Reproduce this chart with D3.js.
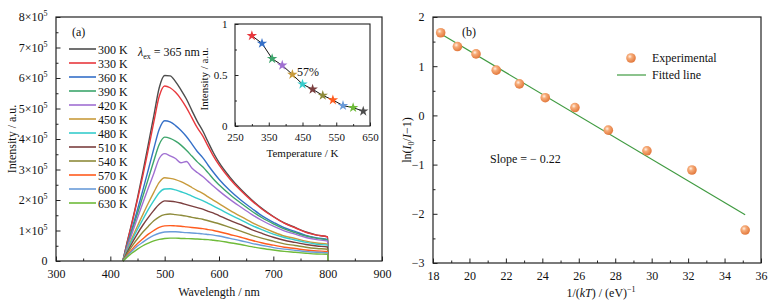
<!DOCTYPE html>
<html>
<head>
<meta charset="utf-8">
<script src="https://cdn.jsdelivr.net/npm/d3@7"></script>
<style>
  body { margin: 0; background: #fff; }
  svg text { font-family: "Liberation Serif", "Times New Roman", "DejaVu Serif", serif; fill: #111; }
  .tick line { stroke: #222; stroke-width: 1; }
</style>
</head>
<body>
<div id="chart"></div>
<script>
// ---------------- data: panel (a) emission spectra (intensity in 1e5 a.u.) ----------------
var wavelengths = [423, 430, 440, 450, 460, 470, 480, 490, 500, 510, 520, 530, 540, 550, 560,
  570, 580, 590, 600, 620, 640, 660, 680, 700, 720, 740, 760, 780, 800, 800.5];

var int_300k = [0, .55, 1.28, 2.07, 2.93, 3.84, 4.76, 5.68, 6.08, 6.07, 5.88, 5.61, 5.31, 4.94, 4.58, 4.27, 3.90, 3.54, 3.23, 2.75, 2.35, 2.01, 1.71, 1.46, 1.25, 1.10, 0.95, 0.85, 0.79, 0.05];
var int_330k = [0, .53, 1.25, 2.01, 2.81, 3.67, 4.55, 5.40, 5.74, 5.68, 5.53, 5.31, 5.03, 4.70, 4.37, 4.10, 3.76, 3.43, 3.15, 2.69, 2.31, 1.98, 1.69, 1.45, 1.24, 1.09, 0.94, 0.85, 0.79, 0.05];
var int_360k = [0, .46, 1.06, 1.69, 2.33, 3.00, 3.68, 4.32, 4.60, 4.56, 4.44, 4.28, 4.08, 3.84, 3.59, 3.39, 3.14, 2.90, 2.68, 2.31, 2.00, 1.73, 1.47, 1.27, 1.09, 0.97, 0.84, 0.76, 0.71, 0.05];
var int_390k = [0, .43, .99, 1.56, 2.13, 2.70, 3.28, 3.82, 4.06, 4.02, 3.93, 3.80, 3.63, 3.44, 3.25, 3.09, 2.89, 2.68, 2.50, 2.18, 1.90, 1.64, 1.41, 1.22, 1.05, 0.93, 0.82, 0.74, 0.69, 0.04];
var int_420k = [0, .39, .91, 1.42, 1.91, 2.40, 2.87, 3.36, 3.52, 3.45, 3.36, 3.22, 3.26, 3.05, 2.90, 2.77, 2.61, 2.45, 2.30, 2.02, 1.77, 1.53, 1.32, 1.14, 0.99, 0.88, 0.77, 0.70, 0.65, 0.04];
var int_450k = [0, .32, .75, 1.15, 1.53, 1.90, 2.25, 2.58, 2.73, 2.71, 2.67, 2.60, 2.51, 2.41, 2.31, 2.22, 2.10, 1.99, 1.88, 1.66, 1.46, 1.27, 1.10, 0.95, 0.82, 0.74, 0.65, 0.59, 0.55, 0.04];
var int_480k = [0, .29, .68, 1.04, 1.37, 1.69, 1.98, 2.24, 2.36, 2.37, 2.33, 2.27, 2.21, 2.13, 2.05, 1.98, 1.89, 1.80, 1.71, 1.52, 1.35, 1.17, 1.02, 0.88, 0.77, 0.69, 0.61, 0.55, 0.52, 0.03];
var int_510k = [0, .25, .59, .90, 1.18, 1.43, 1.66, 1.86, 1.97, 1.96, 1.94, 1.90, 1.85, 1.80, 1.75, 1.70, 1.63, 1.57, 1.49, 1.33, 1.19, 1.03, 0.90, 0.78, 0.68, 0.61, 0.54, 0.49, 0.46, 0.03];
var int_540k = [0, .21, .49, .73, .95, 1.14, 1.32, 1.45, 1.52, 1.54, 1.52, 1.50, 1.47, 1.43, 1.40, 1.37, 1.32, 1.27, 1.22, 1.10, 0.98, 0.85, 0.74, 0.65, 0.56, 0.51, 0.45, 0.41, 0.385, 0.02];
var int_570k = [0, .16, .38, .57, .73, .88, 1.00, 1.10, 1.15, 1.16, 1.15, 1.14, 1.12, 1.10, 1.08, 1.06, 1.03, 1.00, 0.96, 0.87, 0.78, 0.68, 0.59, 0.52, 0.45, 0.41, 0.36, 0.33, 0.31, 0.02];
var int_600k = [0, .14, .33, .49, .62, .74, .84, .91, .95, .96, .96, .945, .93, .92, .905, .89, .87, .85, .82, .74, .665, .58, .51, .44, .39, .35, .31, .285, .27, 0.02];
var int_630k = [0, .11, .26, .39, .50, .585, .66, .71, .74, .75, .75, .74, .735, .73, .72, .71, .70, .68, .66, .60, .54, .47, .41, .36, .315, .285, .255, .23, .22, 0.01];

var temp_labels = ['300 K', '330 K', '360 K', '390 K', '420 K', '450 K', '480 K', '510 K', '540 K', '570 K', '600 K', '630 K'];
var spectra = [int_300k, int_330k, int_360k, int_390k, int_420k, int_450k, int_480k, int_510k, int_540k, int_570k, int_600k, int_630k];
var colors = ['#4d4d4d', '#e8383d', '#3570c8', '#3da56c', '#a070d2', '#c89b3c', '#36cccc', '#7b3f3f', '#8e8b3b', '#ff5c1f', '#6a9bd9', '#6fbb3a'];

var x_ticks_a = [300, 400, 500, 600, 700, 800, 900];
var y_ticks_a = [0, 1, 2, 3, 4, 5, 6, 7, 8];

// inset: integrated intensity vs temperature
var inset_temps = [300, 330, 360, 390, 420, 450, 480, 510, 540, 570, 600, 630];
var inset_intensity = [0.885, 0.81, 0.66, 0.595, 0.505, 0.41, 0.36, 0.30, 0.255, 0.20, 0.18, 0.145];
var inset_colors = ['#e8383d', '#3570c8', '#3da56c', '#a070d2', '#c89b3c', '#36cccc', '#7b3f3f', '#8e8b3b', '#ff5c1f', '#6a9bd9', '#6fbb3a', '#4d4d4d'];
var inset_x_ticks = [250, 350, 450, 550, 650];
var inset_y_ticks = [0, 0.5, 1];

// ---------------- data: panel (b) Arrhenius fit ----------------
var inv_kT = [18.42, 19.34, 20.36, 21.47, 22.74, 24.16, 25.79, 27.62, 29.74, 32.21, 35.13];
var ln_ratio = [1.68, 1.40, 1.25, 0.92, 0.64, 0.36, 0.16, -0.30, -0.72, -1.11, -2.33];
var fit_slope = -0.22;
var fit_intercept = 5.71;
var x_ticks_b = [18, 20, 22, 24, 26, 28, 30, 32, 34, 36];
var y_ticks_b = [-3, -2, -1, 0, 1, 2];

var chart_width = 776;
var chart_height = 304;
var serif = '"Liberation Serif", "Times New Roman", "DejaVu Serif", serif';

var svg = d3.select('#chart')
  .append('svg')
  .attr('width', chart_width)
  .attr('height', chart_height)
  .attr('font-family', serif);

var defs = svg.append('defs');
var grad = defs.append('radialGradient')
  .attr('id', 'ball')
  .attr('cx', '38%').attr('cy', '35%').attr('r', '65%');
grad.append('stop').attr('offset', '0%').attr('stop-color', '#fff1e6');
grad.append('stop').attr('offset', '35%').attr('stop-color', '#f6ab78');
grad.append('stop').attr('offset', '100%').attr('stop-color', '#e2783c');

// helper: inward ticks (major + minor) on a group
function drawAxis(g, axis_fn, scale, majors, minors, len, fmt) {
  var major = axis_fn(scale).tickValues(majors).tickSizeInner(-len).tickSizeOuter(0).tickPadding(len + 4).tickFormat(fmt);
  g.call(major);
  g.attr('font-family', serif);
  g.select('.domain').remove();
  var gm = g.append('g');
  gm.call(axis_fn(scale).tickValues(minors).tickSizeInner(-len * 0.55).tickSizeOuter(0).tickFormat(''));
  gm.select('.domain').remove();
  g.selectAll('text').attr('font-size', 12).attr('fill', '#111');
}

function range_step(a, b, s) {
  var out = [];
  for (var v = a; v <= b + 1e-9; v += s) out.push(+v.toFixed(4));
  return out;
}

// ======================= panel (a) =======================
var ax = { left: 56, right: 382, top: 17, bottom: 261 };

var x_scale_a = d3.scaleLinear().domain([300, 900]).range([ax.left, ax.right]);
var y_scale_a = d3.scaleLinear().domain([0, 8]).range([ax.bottom, ax.top]);

var gxa = svg.append('g').attr('transform', 'translate(0,' + ax.bottom + ')');
drawAxis(gxa, d3.axisBottom, x_scale_a, x_ticks_a, range_step(350, 850, 100), 4.5, d3.format('d'));

var gya = svg.append('g').attr('transform', 'translate(' + ax.left + ',0)');
drawAxis(gya, d3.axisLeft, y_scale_a, y_ticks_a, range_step(0.5, 7.5, 1), 4.5, function() { return ''; });
gya.selectAll('.tick').filter(function(d) { return y_ticks_a.indexOf(d) >= 0; })
  .select('text')
  .each(function(d) {
    var t = d3.select(this);
    if (d === 0) { t.text('0'); return; }
    t.text(d + '×10');
    t.append('tspan').attr('dy', -5).attr('font-size', 8).text('5');
  });

var line_a = d3.line()
  .x(function(d, i) { return x_scale_a(wavelengths[i]); })
  .y(function(d) { return y_scale_a(d); })
  .curve(d3.curveMonotoneX);

svg.append('g')
  .selectAll('path')
  .data(spectra)
  .enter()
  .append('path')
  .attr('d', line_a)
  .attr('fill', 'none')
  .attr('stroke', function(d, i) { return colors[i]; })
  .attr('stroke-width', 1.4)
  .attr('stroke-linejoin', 'round');

svg.append('rect')
  .attr('x', ax.left).attr('y', ax.top)
  .attr('width', ax.right - ax.left).attr('height', ax.bottom - ax.top)
  .attr('fill', 'none').attr('stroke', '#222').attr('stroke-width', 1.2);

// legend (a)
var leg_a = svg.append('g')
  .selectAll('g')
  .data(temp_labels)
  .enter()
  .append('g')
  .attr('transform', function(d, i) { return 'translate(69,' + (49 + i * 14) + ')'; });
leg_a.append('line')
  .attr('x1', 0).attr('x2', 27).attr('y1', 0).attr('y2', 0)
  .attr('stroke', function(d, i) { return colors[i]; })
  .attr('stroke-width', 1.6);
leg_a.append('text')
  .attr('x', 29).attr('y', 4.5)
  .attr('font-size', 12)
  .text(function(d) { return d; });

svg.append('text').attr('x', 72).attr('y', 36).attr('font-size', 12).text('(a)');

var lam = svg.append('text').attr('x', 138).attr('y', 56).attr('font-size', 12);
lam.append('tspan').attr('font-style', 'italic').text('λ');
lam.append('tspan').attr('dy', 3).attr('font-size', 8).text('ex');
lam.append('tspan').attr('dy', -3).text(' = 365 nm');

svg.append('text')
  .attr('x', (ax.left + ax.right) / 2).attr('y', 296)
  .attr('text-anchor', 'middle').attr('font-size', 12)
  .text('Wavelength / nm');
svg.append('text')
  .attr('transform', 'translate(16,' + ((ax.top + ax.bottom) / 2) + ') rotate(-90)')
  .attr('text-anchor', 'middle').attr('font-size', 12)
  .text('Intensity / a.u.');

// ---------- inset ----------
var ins = { left: 235, right: 370, top: 24, bottom: 126 };
var x_scale_in = d3.scaleLinear().domain([250, 650]).range([ins.left, ins.right]);
var y_scale_in = d3.scaleLinear().domain([0, 1]).range([ins.bottom, ins.top]);

var gxi = svg.append('g').attr('transform', 'translate(0,' + ins.bottom + ')');
drawAxis(gxi, d3.axisBottom, x_scale_in, inset_x_ticks, range_step(300, 600, 100), 3.5, d3.format('d'));
var gyi = svg.append('g').attr('transform', 'translate(' + ins.left + ',0)');
drawAxis(gyi, d3.axisLeft, y_scale_in, inset_y_ticks, [0.25, 0.75], 3.5, function(d) { return d === 0.5 ? '0.5' : d3.format('d')(d); });
gxi.selectAll('text').attr('font-size', 11);
gyi.selectAll('text').attr('font-size', 11);

svg.append('rect')
  .attr('x', ins.left).attr('y', ins.top)
  .attr('width', ins.right - ins.left).attr('height', ins.bottom - ins.top)
  .attr('fill', 'none').attr('stroke', '#222').attr('stroke-width', 1.1);

var line_in = d3.line()
  .x(function(d, i) { return x_scale_in(inset_temps[i]); })
  .y(function(d) { return y_scale_in(d); });
svg.append('path')
  .datum(inset_intensity)
  .attr('d', line_in)
  .attr('fill', 'none').attr('stroke', '#111').attr('stroke-width', 1);

svg.append('g')
  .selectAll('path')
  .data(inset_intensity)
  .enter()
  .append('path')
  .attr('d', d3.symbol().type(d3.symbolStar).size(34))
  .attr('transform', function(d, i) { return 'translate(' + x_scale_in(inset_temps[i]) + ',' + y_scale_in(d) + ')'; })
  .attr('fill', function(d, i) { return inset_colors[i]; });

svg.append('text').attr('x', 297).attr('y', 76).attr('font-size', 12).text('57%');
svg.append('text')
  .attr('x', (ins.left + ins.right) / 2).attr('y', 157)
  .attr('text-anchor', 'middle').attr('font-size', 11)
  .text('Temperature / K');
svg.append('text')
  .attr('transform', 'translate(208,' + ((ins.top + ins.bottom) / 2 + 4) + ') rotate(-90)')
  .attr('text-anchor', 'middle').attr('font-size', 11)
  .text('Intensity / a.u.');

// ======================= panel (b) =======================
var bx = { left: 433, right: 761, top: 17, bottom: 263 };
var x_scale_b = d3.scaleLinear().domain([18, 36]).range([bx.left, bx.right]);
var y_scale_b = d3.scaleLinear().domain([-3, 2]).range([bx.bottom, bx.top]);

var gxb = svg.append('g').attr('transform', 'translate(0,' + bx.bottom + ')');
drawAxis(gxb, d3.axisBottom, x_scale_b, x_ticks_b, range_step(19, 35, 2), 4.5, d3.format('d'));
var gyb = svg.append('g').attr('transform', 'translate(' + bx.left + ',0)');
drawAxis(gyb, d3.axisLeft, y_scale_b, y_ticks_b, range_step(-2.5, 1.5, 1), 4.5, function(d) { return d < 0 ? '−' + Math.abs(d) : d; });

// fitted line
var fit_x = [d3.min(inv_kT), d3.max(inv_kT)];
svg.append('line')
  .attr('x1', x_scale_b(fit_x[0])).attr('y1', y_scale_b(fit_intercept + fit_slope * fit_x[0]))
  .attr('x2', x_scale_b(fit_x[1])).attr('y2', y_scale_b(fit_intercept + fit_slope * fit_x[1]))
  .attr('stroke', '#3f9a40').attr('stroke-width', 1.2);

svg.append('g')
  .selectAll('circle')
  .data(ln_ratio)
  .enter()
  .append('circle')
  .attr('cx', function(d, i) { return x_scale_b(inv_kT[i]); })
  .attr('cy', function(d) { return y_scale_b(d); })
  .attr('r', 4.8)
  .attr('fill', 'url(#ball)');

svg.append('rect')
  .attr('x', bx.left).attr('y', bx.top)
  .attr('width', bx.right - bx.left).attr('height', bx.bottom - bx.top)
  .attr('fill', 'none').attr('stroke', '#222').attr('stroke-width', 1.2);

svg.append('text').attr('x', 462).attr('y', 36).attr('font-size', 12).text('(b)');

// legend (b)
svg.append('circle').attr('cx', 631).attr('cy', 58).attr('r', 4.8).attr('fill', 'url(#ball)');
svg.append('text').attr('x', 652).attr('y', 62).attr('font-size', 12).text('Experimental');
svg.append('line').attr('x1', 617).attr('x2', 646).attr('y1', 75).attr('y2', 75)
  .attr('stroke', '#3f9a40').attr('stroke-width', 1.2);
svg.append('text').attr('x', 652).attr('y', 79).attr('font-size', 12).text('Fitted line');

svg.append('text').attr('x', 490).attr('y', 163).attr('font-size', 12)
  .text('Slope = − ' + Math.abs(fit_slope).toFixed(2));

var xlab_b = svg.append('text')
  .attr('x', (bx.left + bx.right) / 2 + 4).attr('y', 297)
  .attr('text-anchor', 'middle').attr('font-size', 12);
xlab_b.append('tspan').text('1/(');
xlab_b.append('tspan').attr('font-style', 'italic').text('kT');
xlab_b.append('tspan').text(') / (eV)');
xlab_b.append('tspan').attr('dy', -5).attr('font-size', 8).text('−1');

var ylab_b = svg.append('text')
  .attr('transform', 'translate(411,' + ((bx.top + bx.bottom) / 2) + ') rotate(-90)')
  .attr('text-anchor', 'middle').attr('font-size', 12);
ylab_b.append('tspan').text('ln(');
ylab_b.append('tspan').attr('font-style', 'italic').text('I');
ylab_b.append('tspan').attr('dy', 3).attr('font-size', 8).text('0');
ylab_b.append('tspan').attr('dy', -3).text('/');
ylab_b.append('tspan').attr('font-style', 'italic').text('I');
ylab_b.append('tspan').text('−1)');
</script>
</body>
</html>
